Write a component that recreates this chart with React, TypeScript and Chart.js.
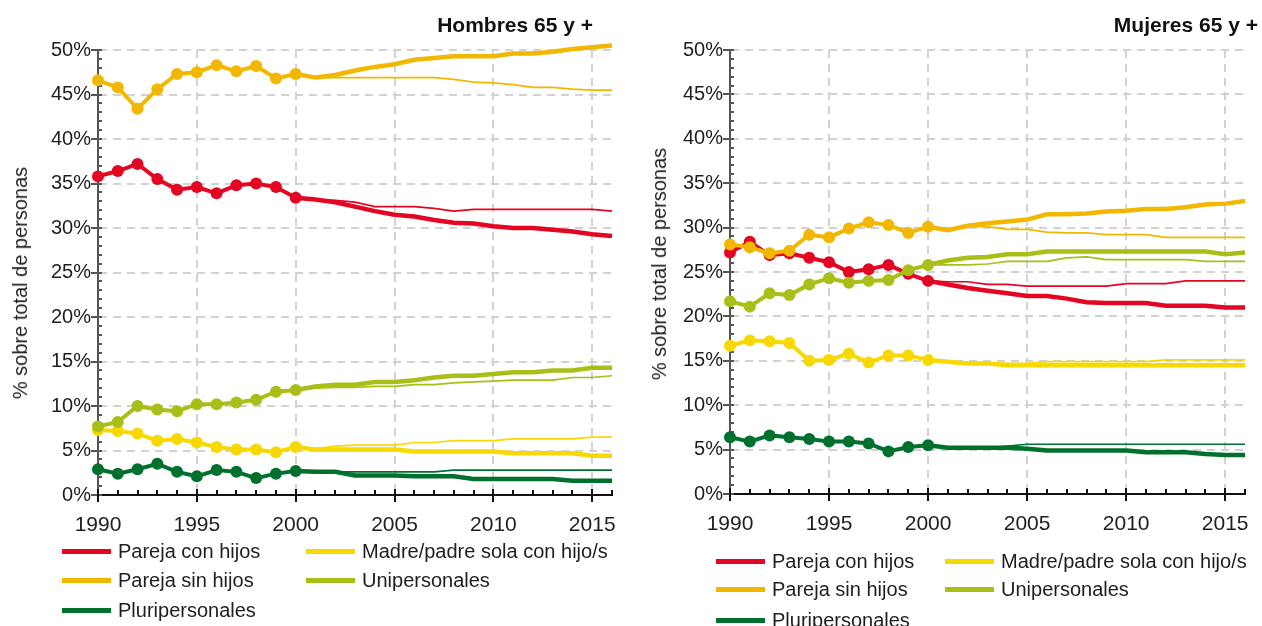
import React, { useEffect, useRef } from "react";
import { Chart, registerables } from "chart.js";

Chart.register(...registerables);

const FONT = "'Liberation Sans', Arial, Helvetica, sans-serif";

// ---------- data ----------
const YEARS_HIST = [1990, 1991, 1992, 1993, 1994, 1995, 1996, 1997, 1998, 1999, 2000];
const YEARS_PROJ = [2000, 2001, 2002, 2003, 2004, 2005, 2006, 2007, 2008, 2009, 2010, 2011, 2012, 2013, 2014, 2015, 2016];

const CATEGORIES = ["Pareja con hijos", "Pareja sin hijos", "Pluripersonales", "Madre/padre sola con hijo/s", "Unipersonales"];
const COLORS = ["#E30521", "#F2B700", "#00702F", "#F7D800", "#A9BE17"];
const DRAW_ORDER = [4, 2, 5, 3, 1];

const Y_MIN = 0;
const Y_MAX = 50;
const Y_STEP = 5;
const X_MIN = 1990;
const X_MAX = 2016;
const X_STEP = 5;

// Hombres 65 y +
const H_CON_HIJOS_HIST = [35.8, 36.4, 37.2, 35.5, 34.3, 34.6, 33.9, 34.8, 35.0, 34.6, 33.4];
const H_CON_HIJOS_THICK = [33.4, 33.2, 32.9, 32.4, 31.9, 31.5, 31.3, 30.9, 30.6, 30.5, 30.2, 30.0, 30.0, 29.8, 29.6, 29.3, 29.1];
const H_CON_HIJOS_THIN = [33.4, 33.2, 33.1, 32.9, 32.4, 32.4, 32.4, 32.2, 31.9, 32.1, 32.1, 32.1, 32.1, 32.1, 32.1, 32.1, 31.9];

const H_SIN_HIJOS_HIST = [46.6, 45.8, 43.4, 45.6, 47.3, 47.5, 48.3, 47.6, 48.2, 46.8, 47.3];
const H_SIN_HIJOS_THICK = [47.3, 46.9, 47.2, 47.7, 48.1, 48.4, 48.9, 49.1, 49.3, 49.3, 49.3, 49.6, 49.6, 49.8, 50.1, 50.3, 50.5];
const H_SIN_HIJOS_THIN = [47.3, 46.9, 46.9, 46.9, 46.9, 46.9, 46.9, 46.9, 46.7, 46.4, 46.3, 46.1, 45.8, 45.8, 45.6, 45.5, 45.5];

const H_PLURI_HIST = [2.9, 2.4, 2.9, 3.5, 2.6, 2.1, 2.8, 2.6, 1.9, 2.4, 2.7];
const H_PLURI_THICK = [2.7, 2.6, 2.6, 2.2, 2.2, 2.2, 2.1, 2.1, 2.1, 1.8, 1.8, 1.8, 1.8, 1.8, 1.6, 1.6, 1.6];
const H_PLURI_THIN = [2.7, 2.6, 2.6, 2.6, 2.6, 2.6, 2.6, 2.6, 2.8, 2.8, 2.8, 2.8, 2.8, 2.8, 2.8, 2.8, 2.8];

const H_MADRE_HIST = [7.3, 7.2, 6.9, 6.1, 6.3, 5.9, 5.4, 5.1, 5.1, 4.8, 5.4];
const H_MADRE_THICK = [5.4, 5.1, 5.1, 5.1, 5.1, 5.1, 4.9, 4.9, 4.9, 4.9, 4.9, 4.7, 4.7, 4.7, 4.7, 4.4, 4.4];
const H_MADRE_THIN = [5.4, 5.2, 5.5, 5.6, 5.6, 5.6, 5.9, 5.9, 6.1, 6.1, 6.1, 6.3, 6.3, 6.3, 6.3, 6.5, 6.5];

const H_UNI_HIST = [7.7, 8.2, 10.0, 9.6, 9.4, 10.2, 10.2, 10.4, 10.7, 11.6, 11.8];
const H_UNI_THICK = [11.8, 12.2, 12.4, 12.4, 12.7, 12.7, 12.9, 13.2, 13.4, 13.4, 13.6, 13.8, 13.8, 14.0, 14.0, 14.3, 14.3];
const H_UNI_THIN = [11.8, 12.0, 12.1, 12.1, 12.2, 12.2, 12.4, 12.4, 12.6, 12.7, 12.8, 12.9, 12.9, 12.9, 13.2, 13.2, 13.4];

// Mujeres 65 y +
const M_CON_HIJOS_HIST = [27.2, 28.4, 26.9, 27.1, 26.6, 26.1, 25.0, 25.3, 25.8, 24.8, 24.0];
const M_CON_HIJOS_THICK = [24.0, 23.6, 23.2, 22.9, 22.6, 22.3, 22.3, 22.0, 21.6, 21.5, 21.5, 21.5, 21.2, 21.2, 21.2, 21.0, 21.0];
const M_CON_HIJOS_THIN = [24.0, 23.9, 23.9, 23.6, 23.6, 23.4, 23.4, 23.4, 23.4, 23.4, 23.7, 23.7, 23.7, 24.0, 24.0, 24.0, 24.0];

const M_SIN_HIJOS_HIST = [28.1, 27.8, 27.1, 27.4, 29.2, 28.9, 29.9, 30.6, 30.3, 29.4, 30.1];
const M_SIN_HIJOS_THICK = [30.1, 29.7, 30.2, 30.5, 30.7, 30.9, 31.5, 31.5, 31.6, 31.8, 31.9, 32.1, 32.1, 32.3, 32.6, 32.7, 33.0];
const M_SIN_HIJOS_THIN = [30.1, 29.9, 30.1, 30.1, 29.8, 29.8, 29.5, 29.4, 29.4, 29.2, 29.2, 29.2, 28.9, 28.9, 28.9, 28.9, 28.9];

const M_PLURI_HIST = [6.4, 5.9, 6.6, 6.4, 6.2, 5.9, 5.9, 5.7, 4.8, 5.3, 5.5];
const M_PLURI_THICK = [5.5, 5.2, 5.2, 5.2, 5.2, 5.1, 4.9, 4.9, 4.9, 4.9, 4.9, 4.7, 4.7, 4.7, 4.5, 4.4, 4.4];
const M_PLURI_THIN = [5.5, 5.2, 5.2, 5.2, 5.4, 5.6, 5.6, 5.6, 5.6, 5.6, 5.6, 5.6, 5.6, 5.6, 5.6, 5.6, 5.6];

const M_MADRE_HIST = [16.7, 17.3, 17.2, 17.0, 15.0, 15.1, 15.8, 14.8, 15.6, 15.6, 15.1];
const M_MADRE_THICK = [15.1, 14.9, 14.7, 14.7, 14.5, 14.5, 14.5, 14.5, 14.5, 14.5, 14.5, 14.5, 14.5, 14.5, 14.5, 14.5, 14.5];
const M_MADRE_THIN = [15.1, 14.9, 14.8, 14.7, 14.7, 14.7, 14.9, 14.9, 14.9, 14.9, 14.9, 14.9, 15.1, 15.1, 15.1, 15.1, 15.1];

const M_UNI_HIST = [21.7, 21.1, 22.6, 22.4, 23.6, 24.3, 23.8, 24.0, 24.1, 25.2, 25.8];
const M_UNI_THICK = [25.8, 26.3, 26.6, 26.7, 27.0, 27.0, 27.3, 27.3, 27.3, 27.3, 27.3, 27.3, 27.3, 27.3, 27.3, 27.0, 27.2];
const M_UNI_THIN = [25.8, 25.8, 25.8, 25.9, 26.2, 26.2, 26.2, 26.6, 26.7, 26.4, 26.4, 26.4, 26.4, 26.4, 26.2, 26.2, 26.2];

const Y_TITLE = "% sobre total de personas";

type Series = { hist: number[]; thick: number[]; thin: number[] };

const HOMBRES: Series[] = [
  { hist: H_CON_HIJOS_HIST, thick: H_CON_HIJOS_THICK, thin: H_CON_HIJOS_THIN },
  { hist: H_SIN_HIJOS_HIST, thick: H_SIN_HIJOS_THICK, thin: H_SIN_HIJOS_THIN },
  { hist: H_PLURI_HIST, thick: H_PLURI_THICK, thin: H_PLURI_THIN },
  { hist: H_MADRE_HIST, thick: H_MADRE_THICK, thin: H_MADRE_THIN },
  { hist: H_UNI_HIST, thick: H_UNI_THICK, thin: H_UNI_THIN },
];

const MUJERES: Series[] = [
  { hist: M_CON_HIJOS_HIST, thick: M_CON_HIJOS_THICK, thin: M_CON_HIJOS_THIN },
  { hist: M_SIN_HIJOS_HIST, thick: M_SIN_HIJOS_THICK, thin: M_SIN_HIJOS_THIN },
  { hist: M_PLURI_HIST, thick: M_PLURI_THICK, thin: M_PLURI_THIN },
  { hist: M_MADRE_HIST, thick: M_MADRE_THICK, thin: M_MADRE_THIN },
  { hist: M_UNI_HIST, thick: M_UNI_THICK, thin: M_UNI_THIN },
];

// ---------- layout ----------
type PanelLayout = {
  title: string;
  series: Series[];
  canvasLeft: number;
  canvasWidth: number;
  axisWidth: number;
  padRight: number;
  padBottom: number;
  titleRight: number;
  yTitleX: number;
  yTitleY: number;
  legendCols: number[];
  legendRows: number[];
};

const PANELS: PanelLayout[] = [
  {
    title: "Hombres 65 y +",
    series: HOMBRES,
    canvasLeft: 0,
    canvasWidth: 631,
    axisWidth: 98,
    padRight: 19,
    padBottom: 91,
    titleRight: 593,
    yTitleX: 20,
    yTitleY: 283,
    legendCols: [62, 306],
    legendRows: [551, 580, 610],
  },
  {
    title: "Mujeres 65 y +",
    series: MUJERES,
    canvasLeft: 631,
    canvasWidth: 631,
    axisWidth: 99,
    padRight: 17,
    padBottom: 92,
    titleRight: 1258,
    yTitleX: 659,
    yTitleY: 264,
    legendCols: [716, 945],
    legendRows: [561, 589, 620],
  },
];

const tickMarks = {
  id: "tickMarks",
  beforeDatasetsDraw(chart: any) {
    const { ctx, chartArea, scales } = chart;
    const xs = scales.x;
    const ys = scales.y;
    ctx.save();
    ctx.lineWidth = 2;
    ctx.strokeStyle = "#555";
    for (let v = Y_MIN; v <= Y_MAX; v += 1) {
      const py = Math.round(ys.getPixelForValue(v));
      const major = v % Y_STEP === 0;
      ctx.beginPath();
      ctx.moveTo(chartArea.left - (major ? 7 : 0), py);
      ctx.lineTo(chartArea.left + 4, py);
      ctx.stroke();
    }
    ctx.strokeStyle = "#111";
    for (let yr = X_MIN; yr <= X_MAX; yr += 1) {
      const px = Math.round(xs.getPixelForValue(yr));
      const major = yr % X_STEP === 0;
      ctx.beginPath();
      ctx.moveTo(px, chartArea.bottom - (major ? 6 : 5));
      ctx.lineTo(px, chartArea.bottom + (major ? 7 : 0));
      ctx.stroke();
    }
    ctx.restore();
  },
};

function ChartPanel({ p }: { p: PanelLayout }) {
  const ref = useRef<HTMLCanvasElement>(null);

  useEffect(() => {
    if (!ref.current) return;
    const datasets: any[] = [];
    p.series.forEach((s, i) => {
      const color = COLORS[i];
      const base = DRAW_ORDER[i] * 3;
      datasets.push({
        label: CATEGORIES[i],
        data: YEARS_HIST.map((x, k) => ({ x, y: s.hist[k] })),
        borderColor: color,
        backgroundColor: color,
        borderWidth: 4,
        pointRadius: 6,
        pointHoverRadius: 6,
        pointBorderWidth: 0,
        pointBackgroundColor: color,
        tension: 0,
        clip: false,
        order: base,
      });
      datasets.push({
        label: CATEGORIES[i] + " (a)",
        data: YEARS_PROJ.map((x, k) => ({ x, y: s.thick[k] })),
        borderColor: color,
        backgroundColor: color,
        borderWidth: 4.5,
        pointRadius: 0,
        pointHoverRadius: 0,
        tension: 0,
        clip: false,
        order: base + 1,
      });
      datasets.push({
        label: CATEGORIES[i] + " (b)",
        data: YEARS_PROJ.map((x, k) => ({ x, y: s.thin[k] })),
        borderColor: color,
        backgroundColor: color,
        borderWidth: 1.7,
        pointRadius: 0,
        pointHoverRadius: 0,
        tension: 0,
        clip: false,
        order: base + 2,
      });
    });

    const gridColor = (zero: number) => (ctx: any) =>
      ctx.tick && ctx.tick.value === zero ? "rgba(0,0,0,0)" : "#d2d2d2";

    const chart = new Chart(ref.current, {
      type: "line",
      data: { datasets },
      plugins: [tickMarks],
      options: {
        animation: false,
        responsive: false,
        devicePixelRatio: 1,
        events: [],
        layout: { padding: { top: 50, right: p.padRight, left: 0, bottom: p.padBottom } },
        plugins: {
          legend: { display: false },
          tooltip: { enabled: false },
          title: { display: false },
        },
        scales: {
          x: {
            type: "linear",
            min: X_MIN,
            max: X_MAX,
            afterFit: (s: any) => {
              s.height = 40;
            },
            ticks: {
              stepSize: X_STEP,
              includeBounds: false,
              autoSkip: false,
              maxRotation: 0,
              callback: (v: any) => String(v),
              font: { size: 21, family: FONT },
              color: "#1e1e1e",
              padding: 12,
            },
            grid: {
              color: gridColor(X_MIN),
              lineWidth: 2,
              drawTicks: true,
              tickLength: 6,
              tickColor: "rgba(0,0,0,0)",
            },
            border: { display: true, color: "#111", width: 2, dash: [8, 6] },
          },
          y: {
            min: Y_MIN,
            max: Y_MAX,
            afterFit: (s: any) => {
              s.width = p.axisWidth;
            },
            ticks: {
              stepSize: Y_STEP,
              callback: (v: any) => v + "%",
              font: { size: 20, family: FONT },
              color: "#1e1e1e",
              padding: 7,
            },
            grid: { color: gridColor(Y_MIN), lineWidth: 2, drawTicks: false },
            border: { display: true, color: "#555", width: 2, dash: [8, 6] },
          },
        },
      } as any,
    });
    return () => chart.destroy();
  }, [p]);

  return (
    <>
      <canvas
        ref={ref}
        width={p.canvasWidth}
        height={626}
        style={{ position: "absolute", left: p.canvasLeft, top: 0, width: p.canvasWidth, height: 626 }}
      />
      <div
        style={{
          position: "absolute",
          left: 0,
          width: p.titleRight,
          top: 14,
          textAlign: "right",
          font: `bold 21px ${FONT}`,
          lineHeight: "21px",
          color: "#111",
          whiteSpace: "nowrap",
        }}
      >
        {p.title}
      </div>
      <div
        style={{
          position: "absolute",
          left: p.yTitleX,
          top: p.yTitleY,
          transform: "translate(-50%, -50%) rotate(-90deg)",
          font: `20px ${FONT}`,
          lineHeight: "20px",
          color: "#1e1e1e",
          whiteSpace: "nowrap",
        }}
      >
        {Y_TITLE}
      </div>
      {CATEGORIES.map((name, i) => {
        const col = i < 3 ? 0 : 1;
        const row = i < 3 ? i : i - 3;
        const x = p.legendCols[col];
        const y = p.legendRows[row];
        return (
          <React.Fragment key={name}>
            <div
              style={{
                position: "absolute",
                left: x,
                top: y - 2.5,
                width: 49,
                height: 5,
                background: COLORS[i],
              }}
            />
            <div
              style={{
                position: "absolute",
                left: x + 56,
                top: y,
                transform: "translateY(-50%)",
                font: `20px ${FONT}`,
                lineHeight: "20px",
                color: "#1e1e1e",
                whiteSpace: "nowrap",
              }}
            >
              {name}
            </div>
          </React.Fragment>
        );
      })}
    </>
  );
}

export default function App() {
  return (
    <div
      style={{
        position: "absolute",
        left: 0,
        top: 0,
        width: 1262,
        height: 626,
        overflow: "hidden",
        background: "#fff",
      }}
    >
      {PANELS.map((p) => (
        <ChartPanel key={p.title} p={p} />
      ))}
    </div>
  );
}
